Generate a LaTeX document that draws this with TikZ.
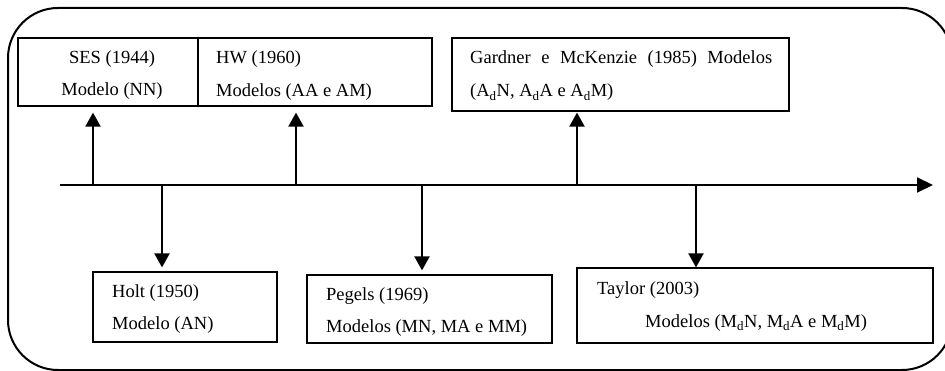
\documentclass[tikz,border=0pt]{standalone}
\usepackage{fontspec}
\setmainfont{Liberation Serif}
\usetikzlibrary{arrows.meta}
\begin{document}
\begin{tikzpicture}[x=1pt,y=-1pt,
  box/.style={draw, line width=1.2pt, fill=white, inner sep=0pt},
  lbl/.style={anchor=base west, inner sep=0pt, font=\fontsize{18.5}{22}\selectfont},
  conn/.style={line width=2pt, -{Triangle[width=15pt,length=14pt]}},
]
\useasboundingbox (0,0) rectangle (945,371);
\begin{scope}
\clip (0,0) rectangle (945,371);
\draw[line width=2pt, rounded corners=50pt] (8,8) rectangle (952,370);
\end{scope}

% boxes
\node[box, minimum width=189pt, minimum height=68pt] (ses) at (112.5,72) {};
\node[box, minimum width=234pt, minimum height=68pt] (hw) at (315,72) {};
\node[box, minimum width=337pt, minimum height=73pt] (gm) at (620.5,74.5) {};
\node[box, minimum width=184pt, minimum height=70pt] (holt) at (185,307) {};
\node[box, minimum width=245pt, minimum height=68pt] (peg) at (429.5,309) {};
\node[box, minimum width=356pt, minimum height=75pt] (tay) at (755,305.5) {};

% texts
\node[lbl, anchor=base] (ses1) at (112,64) {SES (1944)};
\node[lbl, anchor=base] (ses2) at (112,96) {Modelo (NN)};
\node[lbl] (hw1) at (216,64) {HW (1960)};
\node[lbl] (hw2) at (216,97) {Modelos (AA e AM)};
\node[lbl] (gm1) at (470,64) {\makebox[302pt][s]{Gardner e McKenzie (1985) Modelos}};
\node[lbl] (gm2) at (470,97) {(A\textsubscript{d}N, A\textsubscript{d}A e A\textsubscript{d}M)};
\node[lbl] (holt1) at (112,298) {Holt (1950)};
\node[lbl] (holt2) at (112,330) {Modelo (AN)};
\node[lbl] (peg1) at (326,301) {Pegels (1969)};
\node[lbl] (peg2) at (326,332) {Modelos (MN, MA e MM)};
\node[lbl] (tay1) at (597,295) {Taylor (2003)};
\node[lbl] (tay2) at (645,327) {Modelos (M\textsubscript{d}N, M\textsubscript{d}A e M\textsubscript{d}M)};

% timeline
\coordinate (tl0) at (60,185);
\coordinate (tl1) at (933,185);
\draw[line width=2pt, -{Triangle[width=15pt,length=16pt]}] (tl0) -- (tl1);

% up arrows
\coordinate (a1) at (93,185);
\coordinate (a2) at (296,185);
\coordinate (a3) at (577,185);
\draw[conn, shorten >=6pt] (a1) -- (a1 |- ses.south);
\draw[conn, shorten >=6pt] (a2) -- (a2 |- hw.south);
\draw[conn, shorten >=1pt] (a3) -- (a3 |- gm.south);

% down arrows
\coordinate (b1) at (162,185);
\coordinate (b2) at (422,185);
\coordinate (b3) at (696,185);
\draw[conn, shorten >=4pt] (b1) -- (b1 |- holt.north);
\draw[conn, shorten >=4pt] (b2) -- (b2 |- peg.north);
\draw[conn, shorten >=0pt] (b3) -- (b3 |- tay.north);
\end{tikzpicture}
\end{document}
